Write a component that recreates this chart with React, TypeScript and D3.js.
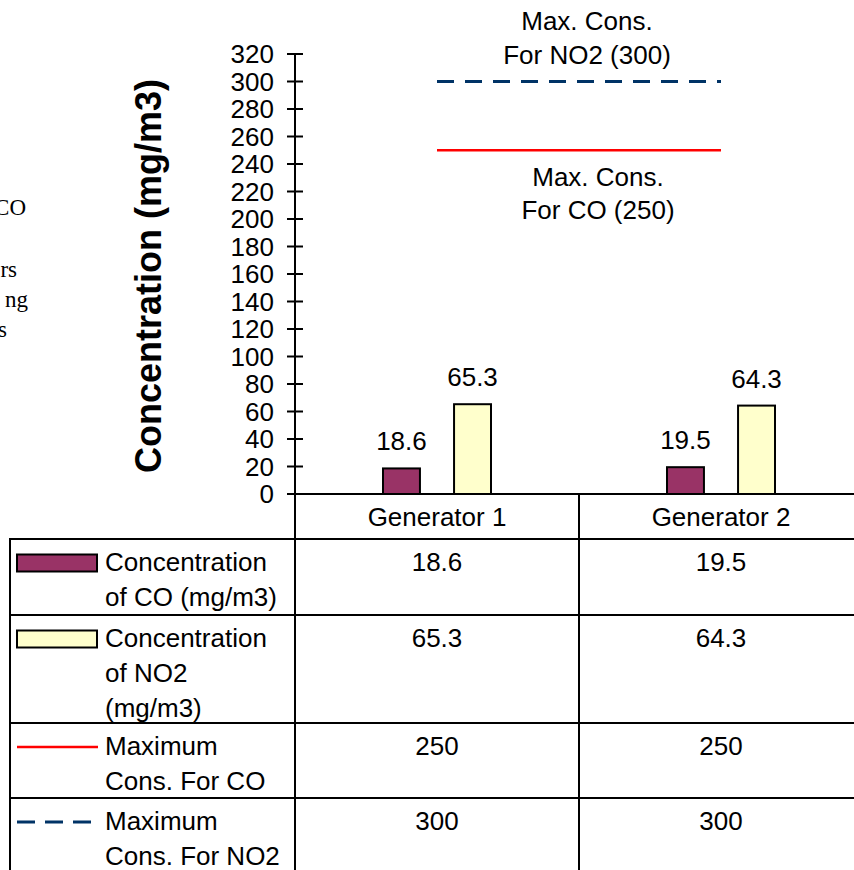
import React from "react";
import * as d3 from "d3";

// Category and series data
const categories = ["Generator 1", "Generator 2"];
const seriesKeys = ["CO", "NO2"];
const coValues = [18.6, 19.5];
const no2Values = [65.3, 64.3];
const maxCO = [250, 250];
const maxNO2 = [300, 300];
const yTicks = [0, 20, 40, 60, 80, 100, 120, 140, 160, 180, 200, 220, 240, 260, 280, 300, 320];

const legendRows = [
  { kind: "bar", color: "#993366", lines: ["Concentration", "of CO (mg/m3)"], values: coValues },
  { kind: "bar", color: "#FFFFCC", lines: ["Concentration", "of NO2", "(mg/m3)"], values: no2Values },
  { kind: "line", color: "#FF0000", lines: ["Maximum", "Cons. For CO"], values: maxCO },
  { kind: "dash", color: "#003366", lines: ["Maximum", "Cons. For NO2"], values: maxNO2 },
];

// Fragments of surrounding document text at the left edge
const sideText = [
  { t: "CO", x: 26, y: 215 },
  { t: "rs", x: 17, y: 277 },
  { t: "ng", x: 28, y: 307 },
  { t: "s", x: 7, y: 337 },
];

const W = 854;
const H = 870;
const FONT = "'Liberation Sans', Arial, sans-serif";
const FS = 26;

export default function App() {
  const axisX = 295;
  const y = d3.scaleLinear().domain([0, 320]).range([494, 54]);
  const x = d3.scaleBand<string>().domain(categories).range([axisX, axisX + 568]);
  const bw = x.bandwidth();
  const xs = d3
    .scaleBand<string>()
    .domain(seriesKeys)
    .range([bw / 2 - 54, bw / 2 + 54])
    .paddingInner(0.48);

  const rowTops = [539, 615, 723, 798, 880];
  const lineGap = 35;

  const cx = (i: number) => (x(categories[i]) as number) + bw / 2;
  const lineGen = d3
    .line<number>()
    .x((_, i) => cx(i))
    .y((d) => y(d));

  const midX = (cx(0) + cx(1)) / 2;

  return (
    <svg
      width={W}
      height={H}
      style={{ position: "absolute", left: 0, top: 0, background: "#fff" }}
      fontFamily={FONT}
    >
      <rect width={W} height={H} fill="#fff" />

      {sideText.map((s, i) => (
        <text
          key={i}
          x={s.x}
          y={s.y}
          textAnchor="end"
          fontFamily="'Liberation Serif', 'Times New Roman', serif"
          fontSize={23}
          fill="#000"
        >
          {s.t}
        </text>
      ))}

      {/* Y axis title */}
      <text
        transform={`translate(161, 276) rotate(-90)`}
        textAnchor="middle"
        fontSize={36}
        fontWeight="bold"
        fill="#000"
      >
        Concentration (mg/m3)
      </text>

      {/* Y axis ticks and labels */}
      {yTicks.map((t) => (
        <g key={t}>
          <line x1={axisX - 8} x2={axisX + 8} y1={y(t)} y2={y(t)} stroke="#000" strokeWidth={2} />
          <text x={axisX - 21} y={y(t)} dy="0.36em" textAnchor="end" fontSize={FS} fill="#000">
            {t}
          </text>
        </g>
      ))}

      {/* Bars */}
      {categories.map((c, i) => {
        const x0 = x(c) as number;
        const vals = [coValues[i], no2Values[i]];
        return (
          <g key={c}>
            {seriesKeys.map((k, j) => {
              const bx = x0 + (xs(k) as number);
              const v = vals[j];
              return (
                <g key={k}>
                  <rect
                    x={bx}
                    y={y(v)}
                    width={xs.bandwidth()}
                    height={y(0) - y(v)}
                    fill={legendRows[j].color}
                    stroke="#000"
                    strokeWidth={2}
                  />
                  <text
                    x={bx + xs.bandwidth() / 2}
                    y={y(v) - 18}
                    textAnchor="middle"
                    fontSize={FS}
                    fill="#000"
                  >
                    {v}
                  </text>
                </g>
              );
            })}
          </g>
        );
      })}

      {/* Max concentration lines */}
      <path d={lineGen(maxCO) || ""} stroke="#FF0000" strokeWidth={2.5} fill="none" />
      <path
        d={lineGen(maxNO2) || ""}
        stroke="#003366"
        strokeWidth={3}
        strokeDasharray="17 11"
        fill="none"
      />
      <text x={midX + 8} y={y(maxNO2[0]) - 52} textAnchor="middle" fontSize={FS} fill="#000">
        Max. Cons.
      </text>
      <text x={midX + 8} y={y(maxNO2[0]) - 18} textAnchor="middle" fontSize={FS} fill="#000">
        For NO2 (300)
      </text>
      <text x={midX + 19} y={y(maxCO[0]) + 36} textAnchor="middle" fontSize={FS} fill="#000">
        Max. Cons.
      </text>
      <text x={midX + 19} y={y(maxCO[0]) + 69} textAnchor="middle" fontSize={FS} fill="#000">
        For CO (250)
      </text>

      {/* Axis lines */}
      <line x1={axisX} x2={axisX} y1={y(320)} y2={H} stroke="#000" strokeWidth={2} />
      <line x1={axisX - 8} x2={W} y1={y(0)} y2={y(0)} stroke="#000" strokeWidth={2} />

      {/* Category labels */}
      {categories.map((c, i) => (
        <g key={c}>
          <text x={cx(i)} y={526} textAnchor="middle" fontSize={FS} fill="#000">
            {c}
          </text>
          {i > 0 && (
            <line
              x1={x(c) as number}
              x2={x(c) as number}
              y1={y(0)}
              y2={H}
              stroke="#000"
              strokeWidth={2}
            />
          )}
        </g>
      ))}

      {/* Data table */}
      <line x1={10} x2={10} y1={rowTops[0]} y2={H} stroke="#000" strokeWidth={2} />
      {rowTops.slice(0, 4).map((r, i) => (
        <line key={i} x1={9} x2={W} y1={r} y2={r} stroke="#000" strokeWidth={2} />
      ))}
      {legendRows.map((row, i) => {
        const top = rowTops[i];
        const base = top + 32;
        const mid = base - 8;
        return (
          <g key={i}>
            {row.kind === "bar" && (
              <rect
                x={17}
                y={mid - 8.5}
                width={80}
                height={17}
                fill={row.color}
                stroke="#000"
                strokeWidth={2}
              />
            )}
            {row.kind === "line" && (
              <line x1={17} x2={98} y1={mid} y2={mid} stroke={row.color} strokeWidth={2.5} />
            )}
            {row.kind === "dash" && (
              <line
                x1={17}
                x2={98}
                y1={mid}
                y2={mid}
                stroke={row.color}
                strokeWidth={3}
                strokeDasharray="18 10"
              />
            )}
            {row.lines.map((l, k) => (
              <text key={k} x={105} y={base + k * lineGap} fontSize={FS} fill="#000">
                {l}
              </text>
            ))}
            {row.values.map((v, k) => (
              <text key={k} x={cx(k)} y={base} textAnchor="middle" fontSize={FS} fill="#000">
                {v}
              </text>
            ))}
          </g>
        );
      })}
    </svg>
  );
}
